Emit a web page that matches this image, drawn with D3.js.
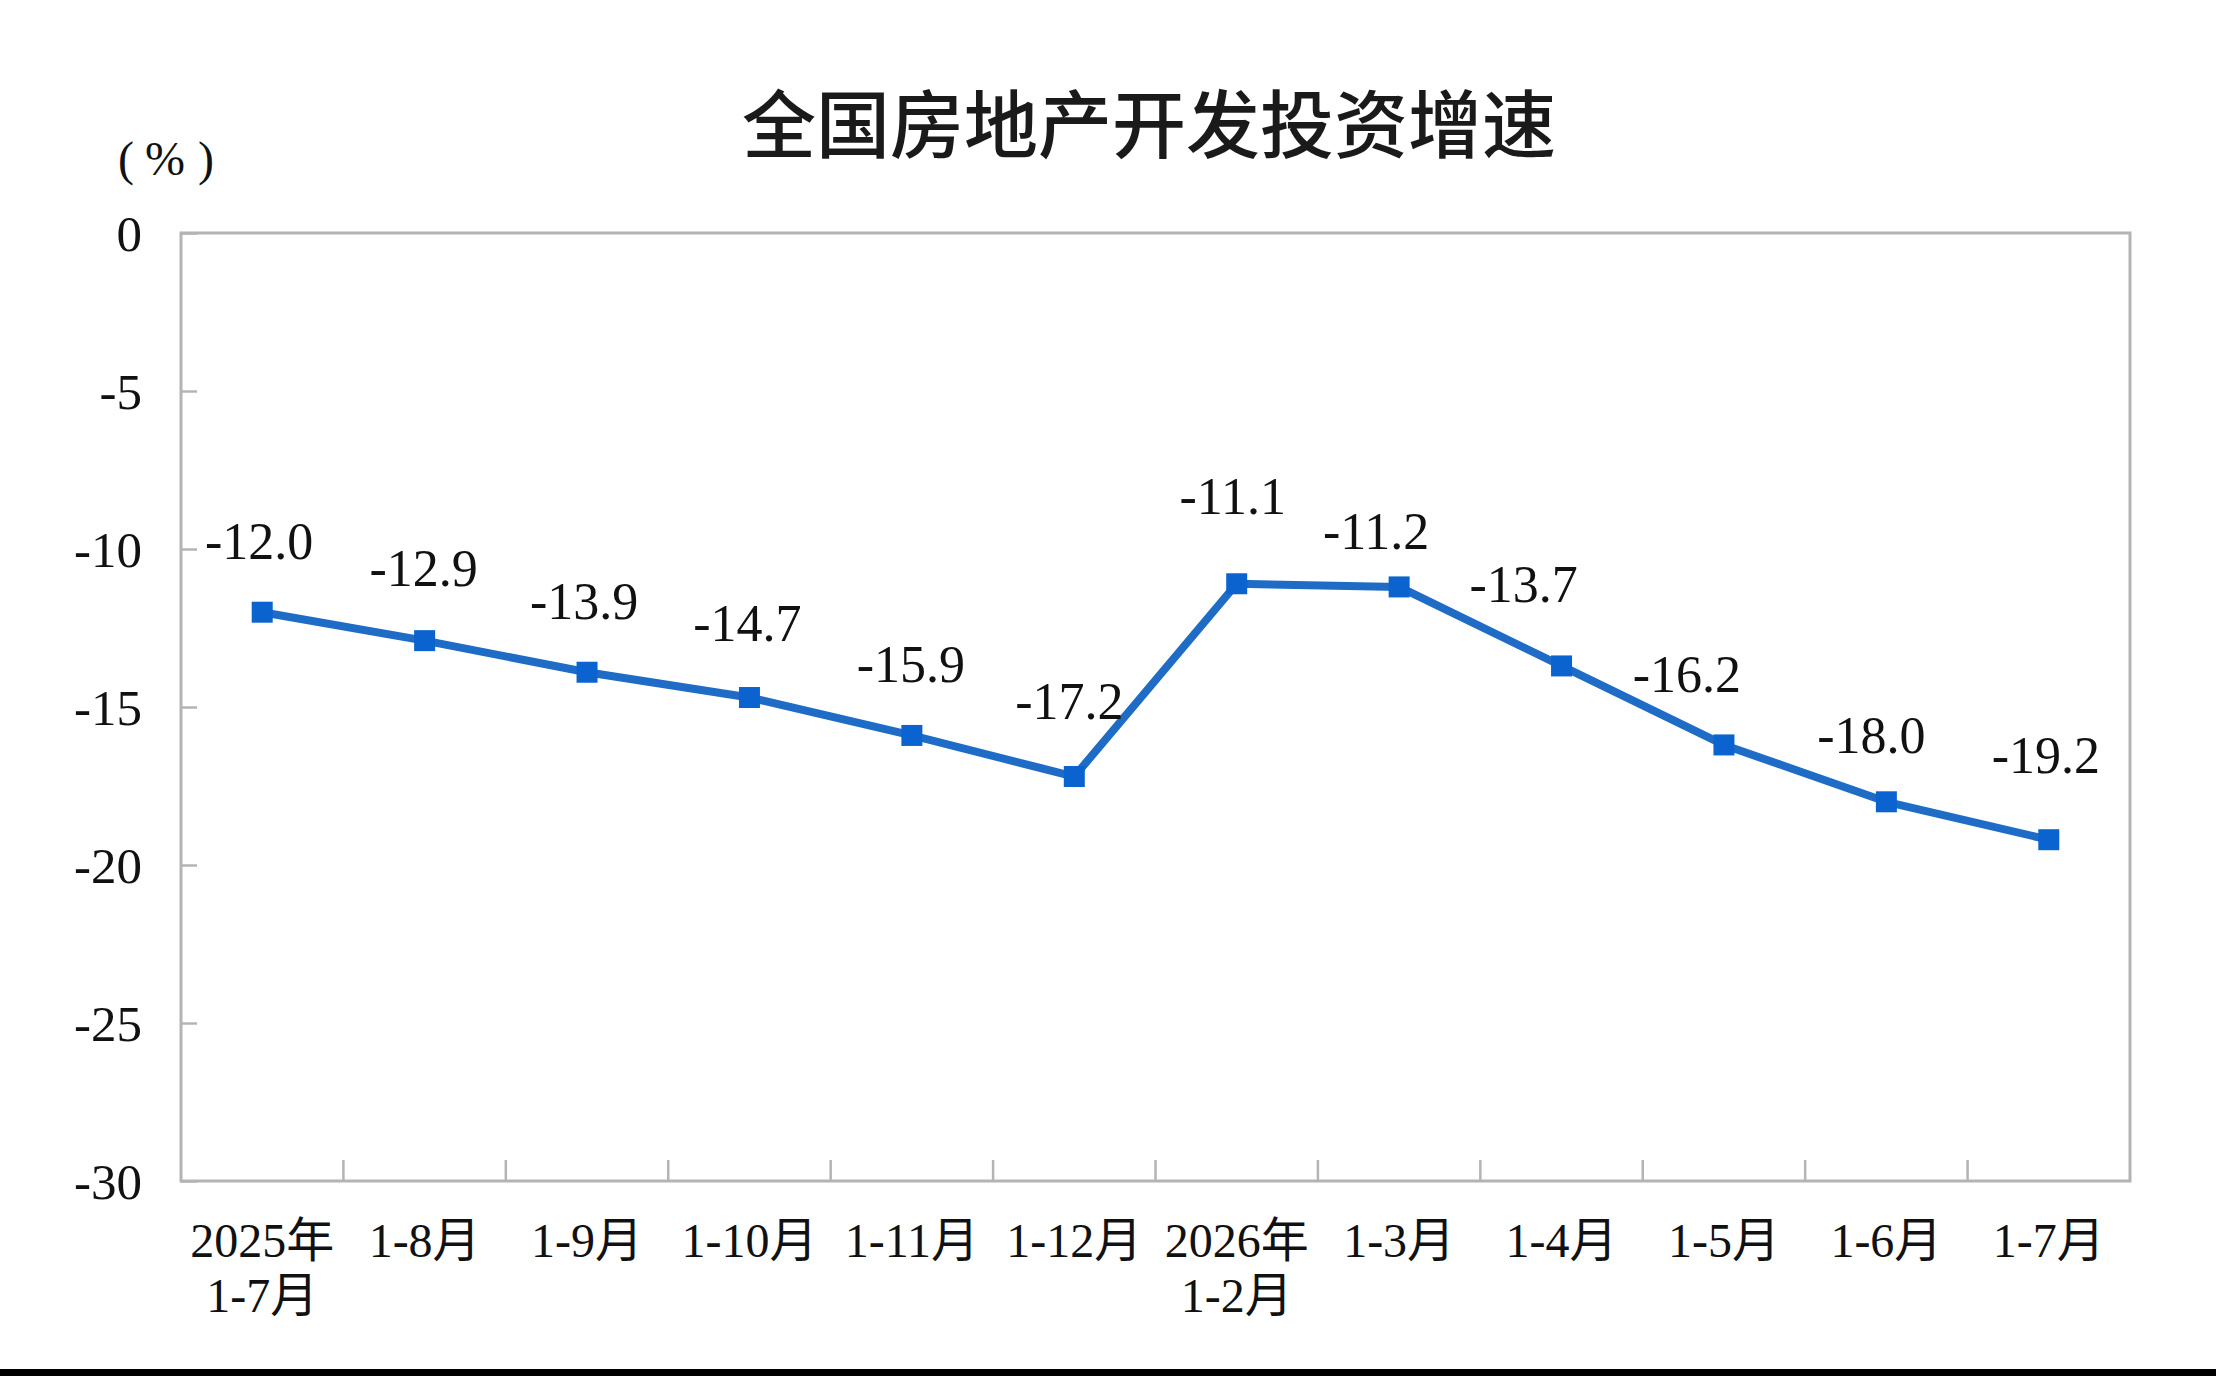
<!DOCTYPE html>
<html>
<head>
<meta charset="utf-8">
<script src="https://cdn.jsdelivr.net/npm/d3@7"></script>
<style>
    body { margin: 0; background: #fff; }
    svg { display: block; }
    .num { font-family: "Liberation Serif", "Noto Sans CJK SC", serif; fill: #111; }
</style>
</head>
<body>
<div id="chart"></div>
<script>

// data
var categories = ["2025年\n1-7月", "1-8月", "1-9月", "1-10月", "1-11月", "1-12月",
    "2026年\n1-2月", "1-3月", "1-4月", "1-5月", "1-6月", "1-7月"];
var growth = [-12.0, -12.9, -13.9, -14.7, -15.9, -17.2, -11.1, -11.2, -13.7, -16.2, -18.0, -19.2];
var yTicks = [0, -5, -10, -15, -20, -25, -30];
var title = "全国房地产开发投资增速";
var unitParts = ["(", "%", ")"];

// hand placed label nudges (px), like the moved labels in the original
var labelNudge = [[-3, -71], [-1, -72], [-3, -71], [-2, -74], [-1, -71], [-5, -75],
    [-4, -87], [-23, -56], [-38, -82], [-37, -71], [-15, -66], [-3, -84]];

var width = 2216, height = 1376;
var margin = { top: 233, right: 86, bottom: 195, left: 181 };
var w = width - margin.left - margin.right;
var h = height - margin.top - margin.bottom;

var lineColor = "#1f6cc6";
var markColor = "#0b63cf";
var axisColor = "#b4b4b4";

var svg = d3.select("#chart").append("svg")
    .attr("width", width)
    .attr("height", height);

svg.append("rect")
    .attr("width", width)
    .attr("height", height)
    .attr("fill", "#fff");

// black strip at the bottom of the screenshot
svg.append("rect")
    .attr("x", 0)
    .attr("y", 1369)
    .attr("width", width)
    .attr("height", height - 1369)
    .attr("fill", "#000");

var g = svg.append("g")
    .attr("transform", "translate(" + margin.left + "," + margin.top + ")");

// Scales
var x = d3.scaleBand()
    .domain(categories)
    .range([0, w])
    .padding(0);

var y = d3.scaleLinear()
    .domain([-30, 0])
    .range([h, 0]);

// Title
svg.append("text")
    .attr("x", 1149)
    .attr("y", 152)
    .attr("text-anchor", "middle")
    .attr("font-family", "'Noto Sans CJK SC', sans-serif")
    .attr("font-weight", 500)
    .attr("font-size", 74)
    .attr("fill", "#1a1a1a")
    .text(title);

// unit, spaced out like a full-width bracket
var unit = svg.append("text")
    .attr("class", "num")
    .attr("x", 118)
    .attr("y", 175)
    .attr("font-size", 48);
unit.selectAll("tspan")
    .data(unitParts)
    .enter().append("tspan")
    .attr("dx", function(d, i) { return i === 0 ? 0 : (i === 1 ? 11 : 13); })
    .text(function(d) { return d; });

// Y axis (ticks pointing inside)
var yAxis = d3.axisLeft(y)
    .tickValues(yTicks)
    .tickSize(-16)
    .tickPadding(39)
    .tickFormat(function(d) { return String(d); });

var yg = g.append("g")
    .attr("class", "y-axis")
    .call(yAxis);
yg.select(".domain").remove();
yg.selectAll(".tick line")
    .attr("stroke", axisColor)
    .attr("stroke-width", 2.5);
yg.selectAll(".tick text")
    .attr("class", "num")
    .attr("font-size", 51)
    .attr("dy", "0.34em");

// X axis: labels at band centres, ticks at band edges
var xAxis = d3.axisBottom(x)
    .tickSize(0)
    .tickPadding(0);

var xg = g.append("g")
    .attr("class", "x-axis")
    .attr("transform", "translate(0," + h + ")")
    .call(xAxis);
xg.select(".domain").remove();
xg.selectAll(".tick text").each(function(d) {
    var t = d3.select(this)
        .attr("class", "num")
        .attr("font-size", 48)
        .attr("y", null)
        .attr("dy", null)
        .text(null);
    d.split("\n").forEach(function(line, i) {
        t.append("tspan")
            .attr("x", 0)
            .attr("y", 76 + i * 55)
            .text(line);
    });
});

g.selectAll(".x-edge")
    .data(categories.slice(1))
    .enter().append("line")
    .attr("class", "x-edge")
    .attr("x1", function(d) { return x(d); })
    .attr("x2", function(d) { return x(d); })
    .attr("y1", h)
    .attr("y2", h - 21)
    .attr("stroke", axisColor)
    .attr("stroke-width", 2.5);

// plot frame
g.append("rect")
    .attr("x", 0)
    .attr("y", 0)
    .attr("width", w)
    .attr("height", h)
    .attr("fill", "none")
    .attr("stroke", axisColor)
    .attr("stroke-width", 3);

// Line
var points = categories.map(function(c, i) { return { cat: c, value: growth[i], i: i }; });

var linePath = d3.line()
    .x(function(d) { return x(d.cat) + x.bandwidth() / 2; })
    .y(function(d) { return y(d.value); });

g.append("path")
    .datum(points)
    .attr("fill", "none")
    .attr("stroke", lineColor)
    .attr("stroke-width", 8)
    .attr("stroke-linejoin", "round")
    .attr("d", linePath);

// square markers
var mk = 21;
g.selectAll(".marker")
    .data(points)
    .enter().append("rect")
    .attr("class", "marker")
    .attr("x", function(d) { return x(d.cat) + x.bandwidth() / 2 - mk / 2; })
    .attr("y", function(d) { return y(d.value) - mk / 2; })
    .attr("width", mk)
    .attr("height", mk)
    .attr("fill", markColor);

// data labels
g.selectAll(".val")
    .data(points)
    .enter().append("text")
    .attr("class", "num val")
    .attr("font-size", 52)
    .attr("text-anchor", "middle")
    .attr("x", function(d) { return x(d.cat) + x.bandwidth() / 2 + labelNudge[d.i][0]; })
    .attr("y", function(d) { return y(d.value) + labelNudge[d.i][1]; })
    .attr("dy", "0.34em")
    .text(function(d) { return d.value.toFixed(1); });

</script>
</body>
</html>
